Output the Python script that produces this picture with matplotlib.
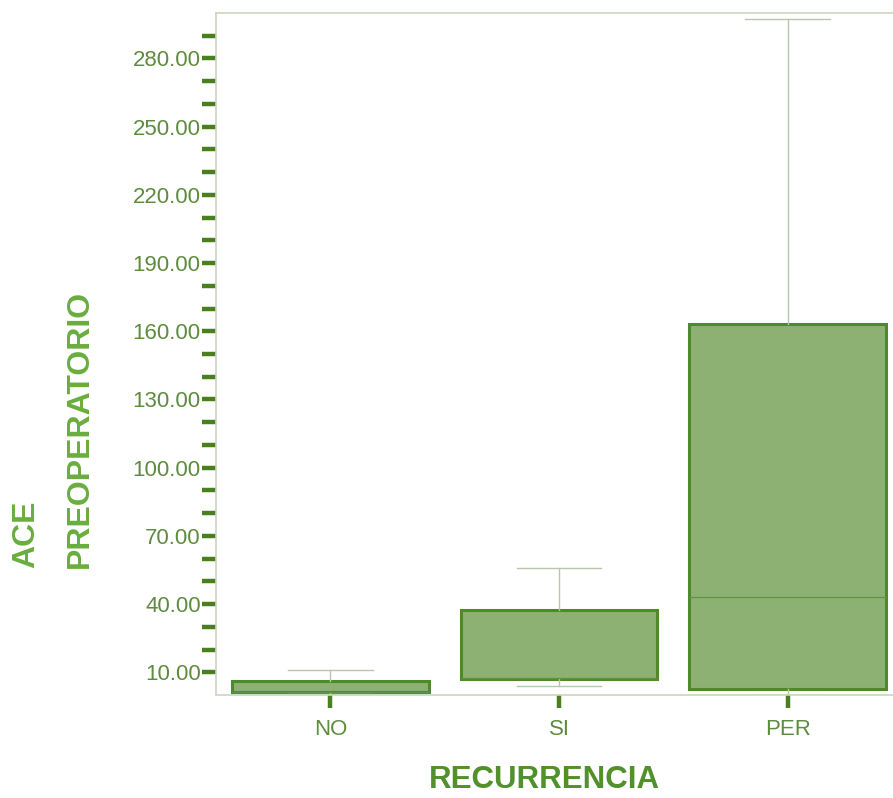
import numpy as np
import matplotlib.pyplot as plt
from matplotlib.ticker import FixedLocator

# values
categories = ["NO", "SI", "PER"]
q1 = [1.2, 6.9, 2.5]
medians = [1.4, 7.6, 43.0]
q3 = [6.0, 37.3, 163.3]
whis_lo = [0.6, 3.8, 0.0]
whis_hi = [10.9, 55.8, 297.2]

major_ticks = [10, 40, 70, 100, 130, 160, 190, 220, 250, 280]

BOX_FILL = "#8db173"
BOX_EDGE = "#4e8a2a"
WHISKER = "#b9c6ad"
SPINE = "#cbd6c2"
TICK = "#4a7f1f"
TICK_TEXT = "#5e8c3e"
LABEL = "#6aae3e"
XLABEL = "#52902c"

fig = plt.figure(figsize=(8.93, 7.98), dpi=100)
ax = fig.add_axes([0.2419, 0.1291, 0.7581, 0.8546])

stats = []
for name, lo, a, m, b, hi in zip(categories, whis_lo, q1, medians, q3, whis_hi):
    stats.append(dict(label=name, whislo=lo, q1=a, med=m, q3=b, whishi=hi, fliers=[]))

ax.bxp(
    stats,
    positions=[1, 2, 3],
    widths=0.86,
    patch_artist=True,
    showfliers=False,
    boxprops=dict(facecolor=BOX_FILL, edgecolor=BOX_EDGE, linewidth=2.2),
    medianprops=dict(color="#5f9440", linewidth=0.9),
    whiskerprops=dict(color=WHISKER, linewidth=1.0),
    capprops=dict(color=WHISKER, linewidth=1.0),
    capwidths=0.37,
)

ax.set_xlim(0.5, 3.46)
ax.set_ylim(0, 300)

ax.yaxis.set_major_locator(FixedLocator(major_ticks))
ax.yaxis.set_minor_locator(FixedLocator([v for v in range(20, 300, 10) if v not in major_ticks]))
ax.yaxis.set_major_formatter(plt.FuncFormatter(lambda v, p: f"{v:.2f}"))

ax.tick_params(axis="y", which="both", length=10, width=3.2, color=TICK,
               labelsize=16, labelcolor=TICK_TEXT, pad=1)
ax.tick_params(axis="x", which="both", length=9, width=3.2, color=TICK,
               labelsize=16, labelcolor=TICK_TEXT, pad=8)

for name in ["left", "bottom", "top"]:
    ax.spines[name].set_color(SPINE)
    ax.spines[name].set_linewidth(1.2)
ax.spines["right"].set_visible(False)

for lab in ax.get_xticklabels() + ax.get_yticklabels():
    lab.set_fontfamily("Liberation Sans")

fig.text(0.610, 0.012, "RECURRENCIA", fontsize=22.5, fontweight="bold",
         color=XLABEL, family="Liberation Sans", ha="center", va="baseline")
fig.text(0.013, 0.288, "ACE\nPREOPERATORIO", fontsize=23, fontweight="bold",
         color=LABEL, family="Liberation Sans", rotation=90,
         ha="left", va="bottom", multialignment="left", linespacing=2.0)

fig.savefig("out.png", dpi=100)
